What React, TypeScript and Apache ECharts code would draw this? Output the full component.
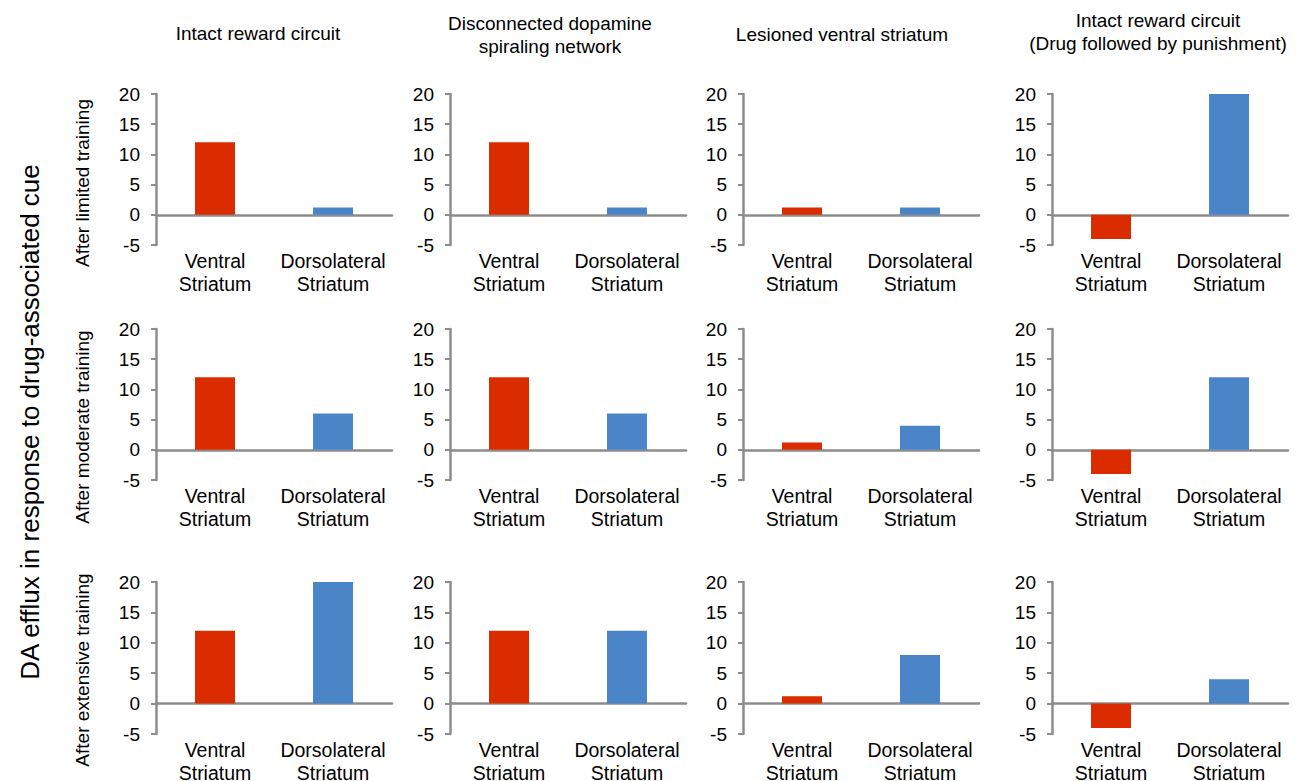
import React, { useEffect, useRef } from "react";
import * as echarts from "echarts";

// ---- data ----
const categories = ["Ventral\nStriatum", "Dorsolateral\nStriatum"];
const conditions = [
  "Intact reward circuit",
  "Disconnected dopamine\nspiraling network",
  "Lesioned ventral striatum",
  "Intact reward circuit\n(Drug followed by punishment)",
];
const stages = ["After limited training", "After moderate training", "After extensive training"];
const yTitle = "DA efflux in response to drug-associated cue";
const yMin = -5;
const yMax = 20;
const yStep = 5;

// values per training stage, one entry per condition (column)
const limitedVentral = [12, 12, 1.2, -4];
const limitedDorsolateral = [1.2, 1.2, 1.2, 20];
const moderateVentral = [12, 12, 1.2, -4];
const moderateDorsolateral = [6, 6, 4, 12];
const extensiveVentral = [12, 12, 1.2, -4];
const extensiveDorsolateral = [20, 12, 8, 4];

const ventralRows = [limitedVentral, moderateVentral, extensiveVentral];
const dorsolateralRows = [limitedDorsolateral, moderateDorsolateral, extensiveDorsolateral];

// ---- layout / style ----
const FONT = "'Liberation Sans', Arial, Helvetica, sans-serif";
const RED = "#DB2C00";
const BLUE = "#4A85C8";
const AXIS = "#8C8C8C";
const colLeft = [156, 450, 743, 1052];
const colWidth = 236;
const rowTop = [94, 329, 582];
const rowHeight = [151, 151, 152];
const titleX = [258, 550, 842, 1158];
const titleY = [33, 35, 34, 32];
const rowLabelY = [183, 427, 670];

export default function App() {
  const ref = useRef<HTMLDivElement>(null);
  useEffect(() => {
    if (!ref.current) return;
    const chart = echarts.init(ref.current, undefined, { renderer: "svg" });
    const grids: any[] = [];
    const xAxes: any[] = [];
    const yAxes: any[] = [];
    const series: any[] = [];
    let idx = 0;
    for (let r = 0; r < 3; r++) {
      for (let c = 0; c < 4; c++) {
        grids.push({
          left: colLeft[c],
          top: rowTop[r],
          width: colWidth,
          height: rowHeight[r],
          containLabel: false,
          outerBoundsMode: "none",
        });
        xAxes.push({
          type: "category",
          gridIndex: idx,
          data: categories,
          axisLine: { show: true, onZero: true, lineStyle: { color: AXIS, width: 2.5 } },
          axisTick: { show: false },
          axisLabel: {
            margin: 5,
            fontSize: 19.5,
            lineHeight: 22.5,
            color: "#000",
            fontFamily: FONT,
            interval: 0,
          },
        });
        yAxes.push({
          type: "value",
          gridIndex: idx,
          min: yMin,
          max: yMax,
          interval: yStep,
          splitLine: { show: false },
          axisLine: { show: true, lineStyle: { color: AXIS, width: 2.5 } },
          axisTick: { show: true, inside: false, length: 5, lineStyle: { color: AXIS, width: 2 } },
          axisLabel: { margin: 16, fontSize: 19, color: "#000", fontFamily: FONT },
        });
        series.push({
          type: "bar",
          xAxisIndex: idx,
          yAxisIndex: idx,
          barWidth: 40,
          data: [
            { value: ventralRows[r][c], itemStyle: { color: RED } },
            { value: dorsolateralRows[r][c], itemStyle: { color: BLUE } },
          ],
        });
        idx++;
      }
    }
    const graphics: any[] = [];
    conditions.forEach((t, c) => {
      graphics.push({
        type: "text",
        x: titleX[c],
        y: titleY[c],
        style: {
          text: t,
          fontSize: 19,
          lineHeight: 23,
          fontFamily: FONT,
          fill: "#000",
          align: "center",
          verticalAlign: "middle",
        },
      });
    });
    stages.forEach((t, r) => {
      graphics.push({
        type: "text",
        x: 82,
        y: rowLabelY[r],
        rotation: Math.PI / 2,
        style: {
          text: t,
          fontSize: 19,
          fontFamily: FONT,
          fill: "#000",
          align: "center",
          verticalAlign: "middle",
        },
      });
    });
    graphics.push({
      type: "text",
      x: 30,
      y: 422,
      rotation: Math.PI / 2,
      style: {
        text: yTitle,
        fontSize: 26,
        fontFamily: FONT,
        fill: "#000",
        align: "center",
        verticalAlign: "middle",
      },
    });
    chart.setOption({
      animation: false,
      backgroundColor: "#fff",
      grid: grids,
      xAxis: xAxes,
      yAxis: yAxes,
      series,
      graphic: graphics,
    });
    return () => chart.dispose();
  }, []);
  return (
    <div
      ref={ref}
      style={{ position: "fixed", left: 0, top: 0, width: 1299, height: 781, background: "#fff" }}
    />
  );
}
